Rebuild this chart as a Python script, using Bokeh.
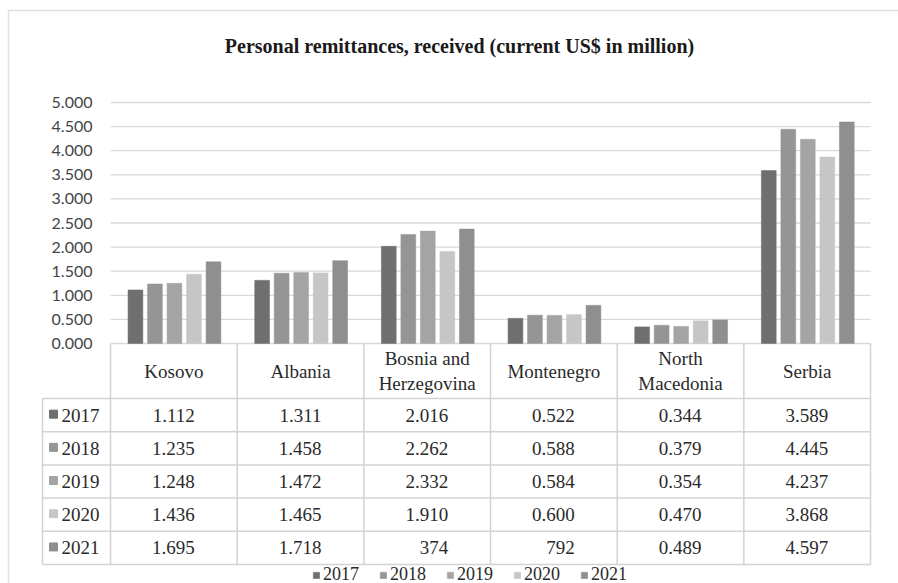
import numpy as np
from bokeh.plotting import figure
from bokeh.models import (Range1d, LinearAxis, FixedTicker, NumeralTickFormatter,
                          Legend, LegendItem)
from bokeh.core.properties import value
from bokeh.embed import file_html
from bokeh.resources import INLINE

# ---------------------------------------------------------------- data
title = "Personal remittances, received (current US$ in million)"
countries = ["Kosovo", "Albania", "Bosnia and\nHerzegovina", "Montenegro",
             "North\nMacedonia", "Serbia"]
years = ["2017", "2018", "2019", "2020", "2021"]
r2017 = [1.112, 1.311, 2.016, 0.522, 0.344, 3.589]
r2018 = [1.235, 1.458, 2.262, 0.588, 0.379, 4.445]
r2019 = [1.248, 1.472, 2.332, 0.584, 0.354, 4.237]
r2020 = [1.436, 1.465, 1.910, 0.600, 0.470, 3.868]
r2021 = [1.695, 1.718, 2.374, 0.792, 0.489, 4.597]
series = [r2017, r2018, r2019, r2020, r2021]
# two cells of the 2021 row are printed without their leading "2." / "0."
printed_2021 = {2: "374", 3: "792"}
y_ticks = [0.0, 0.5, 1.0, 1.5, 2.0, 2.5, 3.0, 3.5, 4.0, 4.5, 5.0]
colors = ["#6f6f6f", "#959595", "#a4a4a4", "#c6c6c6", "#8f8f8f"]

# ---------------------------------------------------------------- layout (pixels)
W, H = 898, 583
X0_PX, X1_PX = 110, 870      # category columns of plot + table
KEY_PX = 42                  # left edge of the legend-key column
Y0_PX = 343                  # value 0 baseline
UNIT_PX = 48.2               # pixels per 1.000
HEAD_BOTTOM = 398            # bottom of the table header row
ROW_H = 33.2
CAT_PX = (X1_PX - X0_PX) / len(countries)


def xd(px):
    return (px - X0_PX) / CAT_PX


def yd(py):
    return (Y0_PX - py) / UNIT_PX


serif = value("Liberation Serif")
grid_c = "#d9d9d9"
table_c = "#d3d3d3"
text_c = "#2a2a2a"

p = figure(width=W, height=H, output_backend="svg", toolbar_location=None,
           x_range=Range1d(xd(0), xd(W)), y_range=Range1d(yd(H), yd(0)),
           x_axis_type=None, y_axis_type=None, min_border=0,
           background_fill_color="white", border_fill_color="white")
p.outline_line_color = None
p.xgrid.visible = False
p.ygrid.visible = False

# chart-area border
p.line(x=[xd(8), xd(8), xd(W + 20)], y=[yd(H + 20), yd(10), yd(10)],
       line_color="#e0e0e0", line_width=1.5)

# title
p.text(x=[xd(459)], y=[yd(45)], text=[title], text_font=serif,
       text_font_size="20px", text_font_style="bold", text_color="#1a1a1a",
       text_align="center", text_baseline="middle")

# value axis, drawn at the left edge of the category columns
yaxis = LinearAxis(fixed_location=0, ticker=FixedTicker(ticks=y_ticks),
                   formatter=NumeralTickFormatter(format="0.000"))
yaxis.axis_line_color = None
yaxis.major_tick_line_color = None
yaxis.minor_tick_line_color = None
yaxis.major_label_standoff = 12
yaxis.major_label_text_font = "Lato"
yaxis.major_label_text_font_size = "16px"
yaxis.major_label_text_color = "#454545"
p.add_layout(yaxis, "left")

# horizontal gridlines
n = len(countries)
p.segment(x0=[0] * len(y_ticks), x1=[n] * len(y_ticks), y0=y_ticks, y1=y_ticks,
          line_color=grid_c, line_width=1.3)

# clustered bars
step, bar_w = 0.154, 0.117
idx = np.arange(n)
bar_renderers = []
for k, (vals, col) in enumerate(zip(series, colors)):
    xs = idx + 0.505 + (k - 2) * step
    r = p.vbar(x=xs, top=vals, bottom=0, width=bar_w, fill_color=col,
               line_color=col, line_width=0.5)
    bar_renderers.append(r)

# data table
row_edges = [HEAD_BOTTOM + i * ROW_H for i in range(len(years) + 1)]
p.segment(x0=[xd(KEY_PX)] * len(row_edges), x1=[n] * len(row_edges),
          y0=[yd(e) for e in row_edges], y1=[yd(e) for e in row_edges],
          line_color=table_c, line_width=1.5)
p.segment(x0=list(range(n + 1)), x1=list(range(n + 1)),
          y0=[0] * (n + 1), y1=[yd(row_edges[-1])] * (n + 1),
          line_color=table_c, line_width=1.5)
p.segment(x0=[xd(KEY_PX)], x1=[xd(KEY_PX)], y0=[yd(HEAD_BOTTOM)],
          y1=[yd(row_edges[-1])], line_color=table_c, line_width=1.5)

p.text(x=idx + 0.5, y=[yd((Y0_PX + HEAD_BOTTOM) / 2)] * n, text=countries,
       text_font=serif, text_font_size="19px", text_color=text_c,
       text_align="center", text_baseline="middle", text_line_height=1.22)

for k, (yr, vals, col) in enumerate(zip(years, series, colors)):
    yc = yd(HEAD_BOTTOM + (k + 0.5) * ROW_H)
    cells = [f"{v:.3f}" for v in vals]
    if yr == "2021":
        for j, s in printed_2021.items():
            cells[j] = s
    # numbers right-aligned so that their right edges line up per column
    p.text(x=idx + 0.5, y=[yc] * n, text=cells, x_offset=21,
           text_font=serif, text_font_size="19px", text_color=text_c,
           text_align="right", text_baseline="middle")
    p.scatter(x=[xd(53)], y=[yc + 0.02], marker="square", size=8,
              fill_color=col, line_color=col)
    p.text(x=[xd(61)], y=[yc], text=[yr], text_font=serif,
           text_font_size="19px", text_color=text_c, text_align="left",
           text_baseline="middle")

# legend under the table
legend = Legend(items=[LegendItem(label=yr, renderers=[r])
                       for yr, r in zip(years, bar_renderers)],
                orientation="horizontal", location=(312, -2))
legend.border_line_color = None
legend.background_fill_alpha = 0
legend.padding = 0
legend.margin = 0
legend.spacing = 20
legend.glyph_width = 8
legend.glyph_height = 8
legend.label_standoff = 3
legend.label_height = 18
legend.label_text_font = "Liberation Serif"
legend.label_text_font_size = "18px"
legend.label_text_color = text_c
p.add_layout(legend, "center")

open("out.html", "w").write(file_html(p, INLINE))
